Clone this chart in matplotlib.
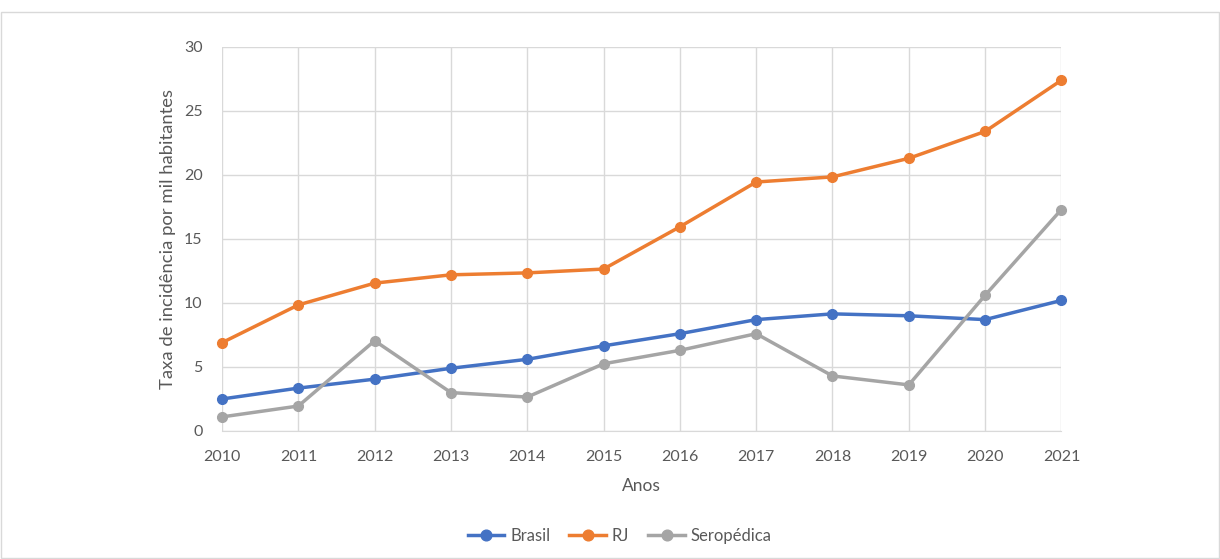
import matplotlib.pyplot as plt
from matplotlib.patches import Rectangle

plt.rcParams['font.family'] = ['Lato', 'DejaVu Sans']

anos = list(range(2010, 2022))
brasil = [2.5, 3.35, 4.05, 4.9, 5.6, 6.65, 7.6, 8.7, 9.15, 9.0, 8.7, 10.2]
rj = [6.9, 9.85, 11.55, 12.2, 12.35, 12.65, 15.95, 19.45, 19.85, 21.3, 23.4, 27.4]
seropedica = [1.1, 1.95, 7.05, 3.0, 2.65, 5.25, 6.3, 7.6, 4.3, 3.6, 10.6, 17.3]

fig = plt.figure(figsize=(12.2, 5.59), dpi=100)
ax = fig.add_axes([0.182, 0.229, 0.688, 0.687])

# moldura externa do gráfico
fig.patches.append(Rectangle((0.001, 0.002), 0.998, 0.976, transform=fig.transFigure,
                             fill=False, edgecolor='#d9d9d9', linewidth=1))

ax.plot(anos, brasil, color='#4472c4', marker='o', markersize=7, linewidth=2.5, label='Brasil')
ax.plot(anos, rj, color='#ed7d31', marker='o', markersize=7, linewidth=2.5, label='RJ')
ax.plot(anos, seropedica, color='#a5a5a5', marker='o', markersize=7, linewidth=2.5, label='Seropédica')

ax.set_xlim(2010, 2021)
ax.set_ylim(0, 30)
ax.set_xticks(anos)
ax.set_yticks(range(0, 31, 5))
ax.grid(True, color='#d9d9d9', linewidth=1)
ax.set_axisbelow(True)
for s in ['top', 'right', 'left']:
    ax.spines[s].set_visible(False)
ax.spines['bottom'].set_color('#d9d9d9')
ax.tick_params(length=0, labelsize=11.5, colors='#595959')
ax.tick_params(axis='x', pad=14)
ax.tick_params(axis='y', pad=14)
for line in ax.lines:
    line.set_clip_on(False)

ax.set_xlabel('Anos', fontsize=12.5, color='#595959', labelpad=10)
ax.set_ylabel('Taxa de incidência por mil habitantes', fontsize=13.3, color='#595959', labelpad=6)

fig.legend(loc='center', bbox_to_anchor=(0.508, 0.041), ncol=3, frameon=False,
           fontsize=12, labelcolor='#595959', handlelength=2.2, columnspacing=1.15,
           handletextpad=0.35, markerscale=1.1)

plt.savefig('out.png', dpi=100)
